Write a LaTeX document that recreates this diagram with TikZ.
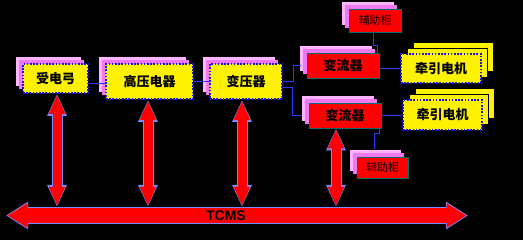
\documentclass[tikz,border=0pt]{standalone}
\usepackage{fontspec}
\setmainfont{Liberation Sans}
\newfontfamily\cjk{Noto Sans CJK SC}
\usetikzlibrary{arrows.meta,shadows}
\definecolor{pinkA}{RGB}{255,180,255}
\definecolor{pinkB}{RGB}{240,120,240}
\definecolor{dotblue}{RGB}{20,20,230}
\definecolor{outl}{RGB}{120,140,255}
\definecolor{lineblue}{RGB}{40,60,255}
\definecolor{redborder}{RGB}{0,110,110}
\begin{document}
\begin{tikzpicture}[x=1pt,y=-1pt,
  txt/.style={font=\cjk\bfseries\fontsize{13}{13}\selectfont, text=black, inner sep=0pt},
  ybox/.style={txt, fill=yellow, draw=dotblue, line width=1.6pt, dash pattern=on 1.6pt off 1.6pt},
  rbox/.style={txt, fill=red, draw=redborder, line width=0.6pt},
  pshadow/.style={copy shadow={shadow xshift=-7pt, shadow yshift=7pt, fill=pinkA, draw=none},
                  copy shadow={shadow xshift=-4pt, shadow yshift=4pt, fill=pinkB, draw=none}},
  ystack/.style={double copy shadow={shadow xshift=6pt, shadow yshift=6pt, fill=yellow, draw=black, line width=0.6pt, solid}},
  conn/.style={draw=lineblue, line width=0.9pt},
  bigarrow/.style={draw=red, line width=9pt,
     {Triangle[length=19pt,width=15pt]}-{Triangle[length=19pt,width=15pt]},
     shorten <=1pt, shorten >=1pt,
     preaction={draw=outl, line width=11pt, shorten <=0pt, shorten >=0pt,
        {Triangle[length=22pt,width=18pt]}-{Triangle[length=22pt,width=18pt]}}},
  busarrow/.style={draw=red, line width=15pt,
     {Triangle[length=20pt,width=23pt]}-{Triangle[length=20pt,width=23pt]},
     shorten <=1.5pt, shorten >=1.5pt,
     preaction={draw=outl, line width=17pt, shorten <=0pt, shorten >=0pt,
        {Triangle[length=22pt,width=26pt]}-{Triangle[length=22pt,width=26pt]}}}
]
\fill[black] (0,0) rectangle (523,240);
\useasboundingbox (0,0) rectangle (523,240);

% bus
\coordinate (busL) at (6,215.5);
\coordinate (busR) at (468,215.5);
\draw[busarrow] (busL) -- (busR);
\node[font=\bfseries\fontsize{14}{14}\selectfont, text=black, inner sep=0pt] (tcms) at (226,215.5) {TCMS};

% boxes
\node[ybox, pshadow, minimum width=65pt, minimum height=29pt] (pg) at (55.5,78.5) {受电弓};
\node[ybox, pshadow, minimum width=87pt, minimum height=35pt] (gy) at (149.5,81.5) {高压电器};
\node[ybox, pshadow, minimum width=72pt, minimum height=35pt] (byq) at (246,81.5) {变压器};
\node[rbox, pshadow, minimum width=72pt, minimum height=25pt] (bl1) at (343,65.5) {变流器};
\node[rbox, pshadow, minimum width=72pt, minimum height=25pt] (bl2) at (345,115.5) {变流器};
\node[rbox, pshadow, minimum width=52pt, minimum height=23pt, font=\cjk\fontsize{11}{11}\selectfont] (fz1) at (375,20.5) {辅助柜};
\node[rbox, pshadow, minimum width=51pt, minimum height=21pt, font=\cjk\fontsize{11}{11}\selectfont] (fz2) at (382.5,167.5) {辅助柜};
\node[ybox, ystack, minimum width=80pt, minimum height=29pt] (qy1) at (441,68.5) {牵引电机};
\node[ybox, ystack, minimum width=79pt, minimum height=30pt] (qy2) at (442.5,115) {牵引电机};

% connectors
\draw[conn] ([yshift=-4.5pt]pg.east) -- ([yshift=-4.5pt]pg.east -| gy.west);
\draw[conn] (gy.east) -- (gy.east -| byq.west);
\draw[conn] (byq.east) -- ++(11,0) |- ([xshift=-6pt]bl1.west);
\draw[conn] ([yshift=-6pt]byq.east) -- ++(10,0) |- ([xshift=-7pt]bl2.west);
\draw[conn] (bl1.east |- qy1.west) -- (qy1.west);
\draw[conn] (bl2.east |- qy2.west) -- (qy2.west);
\draw[conn] ([xshift=-2pt]fz1.south) -- ++(0,13) -| ([xshift=-1.5pt]bl1.north east);
\draw[conn] ([xshift=-1.5pt]bl2.south east) -- ++(0,5) -| ([xshift=-8.5pt,yshift=8pt]fz2.north);

% vertical arrows to the bus
\coordinate (e1) at (57,207);
\coordinate (e2) at (148,207);
\coordinate (e3) at (242,207);
\coordinate (e4) at (336,207);
\draw[bigarrow] (pg.south -| e1) -- (e1);
\draw[bigarrow] (gy.south -| e2) -- (e2);
\draw[bigarrow] (byq.south -| e3) -- (e3);
\draw[bigarrow] (bl2.south -| e4) -- (e4);
\end{tikzpicture}
\end{document}
